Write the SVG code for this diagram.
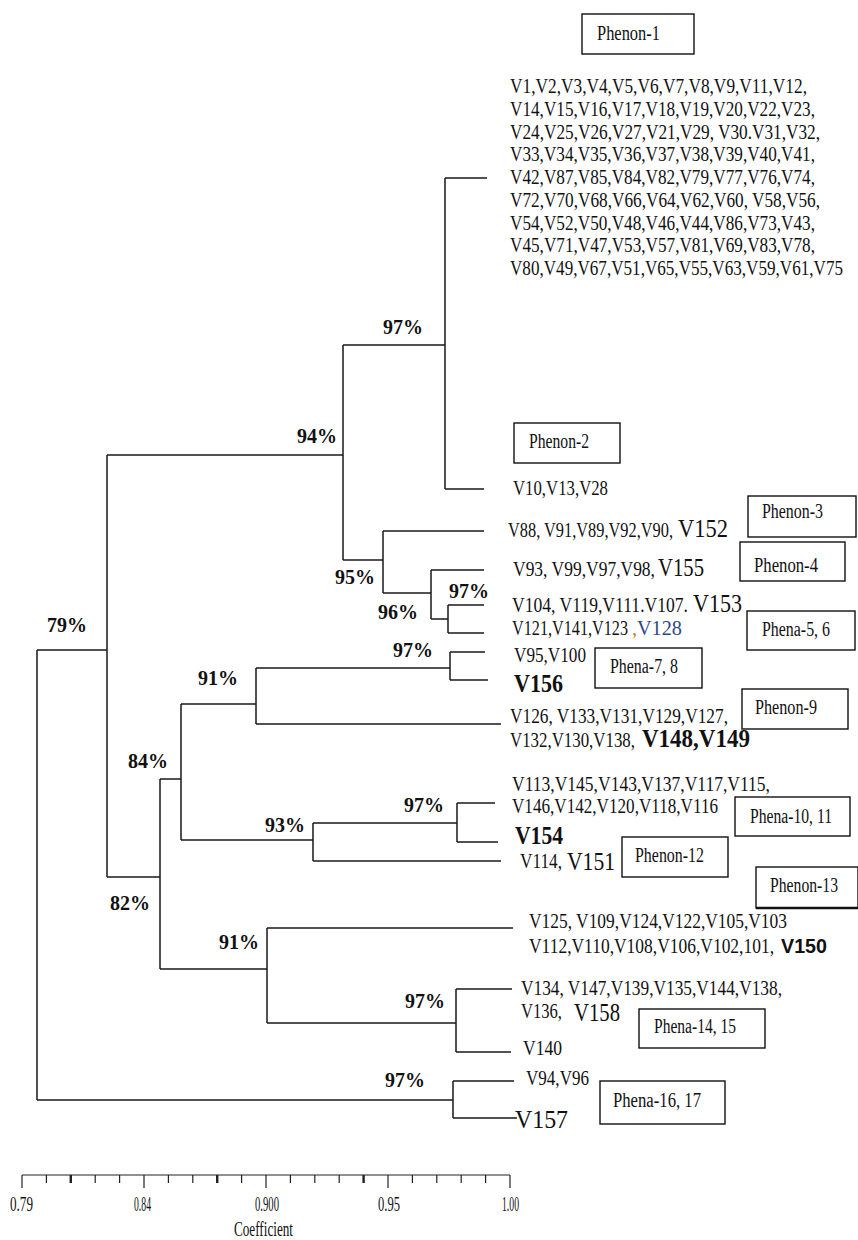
<svg xmlns="http://www.w3.org/2000/svg" width="858" height="1240" viewBox="0 0 858 1240">
<style>
.ln{stroke:#1a1a1a;stroke-width:1.5;fill:none}
.bx{fill:#fff;stroke:#111;stroke-width:1.4}
.pc{font-family:"Liberation Serif","Times New Roman",serif;font-weight:bold;font-size:20px;fill:#111}
.lf{font-family:"Liberation Serif","Times New Roman",serif;font-size:21px;fill:#111}
.bg{font-family:"Liberation Serif","Times New Roman",serif;font-size:25px;fill:#111}
.bgb{font-family:"Liberation Serif","Times New Roman",serif;font-size:26px;font-weight:bold;fill:#111}
.sb{font-family:"Liberation Sans",Arial,sans-serif;font-size:20px;font-weight:bold;fill:#111}
.bt{font-family:"Liberation Serif","Times New Roman",serif;font-size:20px;fill:#111}
.ax{font-family:"Liberation Serif","Times New Roman",serif;font-size:22px;fill:#111}
.tk{stroke:#222;stroke-width:1.2}
.tkb{stroke:#222;stroke-width:2.4}
</style>
<rect x="0" y="0" width="858" height="1240" fill="#fff"/>

<g id="connectors">
<path class="ln" d="M37,650 V1100 M37,650 H107 M37,1100 H453"/>
<path class="ln" d="M107,455 V877 M107,455 H343 M107,877 H160"/>
<path class="ln" d="M343,345 V560 M343,345 H445 M343,560 H383"/>
<path class="ln" d="M445,178 V489 M445,178 H487 M445,489 H484"/>
<path class="ln" d="M383,531 V593 M383,531 H484 M383,593 H431"/>
<path class="ln" d="M431,570 V619 M431,570 H484 M431,619 H448"/>
<path class="ln" d="M448,605 V633 M448,605 H484 M448,633 H484"/>
<path class="ln" d="M160,779 V969 M160,779 H181 M160,969 H267"/>
<path class="ln" d="M181,704 V840 M181,704 H256 M181,840 H313"/>
<path class="ln" d="M256,668 V724 M256,668 H450 M256,724 H501"/>
<path class="ln" d="M450,652 V680 M450,652 H485 M450,680 H488"/>
<path class="ln" d="M313,823 V861 M313,823 H457 M313,861 H501"/>
<path class="ln" d="M457,803 V842 M457,803 H495 M457,842 H498"/>
<path class="ln" d="M267,928 V1023 M267,928 H513 M267,1023 H456"/>
<path class="ln" d="M456,989 V1052 M456,989 H512 M456,1052 H511"/>
<path class="ln" d="M453,1081 V1118 M453,1081 H514 M453,1118 H517"/>
</g>

<g id="similarity-labels">
<text class="pc" x="383" y="334">97%</text>
<text class="pc" x="297" y="443">94%</text>
<text class="pc" x="335" y="584">95%</text>
<text class="pc" x="378" y="619">96%</text>
<text class="pc" x="449" y="598">97%</text>
<text class="pc" x="393" y="657">97%</text>
<text class="pc" x="198" y="685">91%</text>
<text class="pc" x="47" y="632">79%</text>
<text class="pc" x="128" y="768">84%</text>
<text class="pc" x="404" y="812">97%</text>
<text class="pc" x="265" y="832">93%</text>
<text class="pc" x="110" y="910">82%</text>
<text class="pc" x="219" y="949">91%</text>
<text class="pc" x="405" y="1008">97%</text>
<text class="pc" x="385" y="1087">97%</text>
</g>

<g id="phenon-1">
<rect class="bx" x="582" y="14" width="112" height="40"/>
<text class="bt" x="597" y="40" textLength="63" lengthAdjust="spacingAndGlyphs">Phenon-1</text>
<text class="lf" x="510" y="93" textLength="297" lengthAdjust="spacingAndGlyphs">V1,V2,V3,V4,V5,V6,V7,V8,V9,V11,V12,</text>
<text class="lf" x="510" y="116" textLength="305" lengthAdjust="spacingAndGlyphs">V14,V15,V16,V17,V18,V19,V20,V22,V23,</text>
<text class="lf" x="510" y="139" textLength="310" lengthAdjust="spacingAndGlyphs">V24,V25,V26,V27,V21,V29, V30.V31,V32,</text>
<text class="lf" x="510" y="161" textLength="305" lengthAdjust="spacingAndGlyphs">V33,V34,V35,V36,V37,V38,V39,V40,V41,</text>
<text class="lf" x="510" y="184" textLength="305" lengthAdjust="spacingAndGlyphs">V42,V87,V85,V84,V82,V79,V77,V76,V74,</text>
<text class="lf" x="510" y="207" textLength="310" lengthAdjust="spacingAndGlyphs">V72,V70,V68,V66,V64,V62,V60, V58,V56,</text>
<text class="lf" x="510" y="230" textLength="305" lengthAdjust="spacingAndGlyphs">V54,V52,V50,V48,V46,V44,V86,V73,V43,</text>
<text class="lf" x="510" y="252" textLength="305" lengthAdjust="spacingAndGlyphs">V45,V71,V47,V53,V57,V81,V69,V83,V78,</text>
<text class="lf" x="510" y="275" textLength="333" lengthAdjust="spacingAndGlyphs">V80,V49,V67,V51,V65,V55,V63,V59,V61,V75</text>
</g>

<g id="phenon-2">
<rect class="bx" x="514" y="423" width="106" height="40"/>
<text class="bt" x="529" y="448" textLength="60" lengthAdjust="spacingAndGlyphs">Phenon-2</text>
<text class="lf" x="513" y="495" textLength="95" lengthAdjust="spacingAndGlyphs">V10,V13,V28</text>
</g>

<g id="phenon-3">
<rect class="bx" x="748" y="496" width="108" height="41"/>
<text class="bt" x="762" y="518" textLength="61" lengthAdjust="spacingAndGlyphs">Phenon-3</text>
<text class="lf" y="537"><tspan x="508" textLength="165" lengthAdjust="spacingAndGlyphs">V88, V91,V89,V92,V90,</tspan><tspan class="bg" x="678" textLength="50" lengthAdjust="spacingAndGlyphs">V152</tspan></text>
</g>

<g id="phenon-4">
<rect class="bx" x="740" y="542" width="105" height="39"/>
<text class="bt" x="754" y="572" textLength="64" lengthAdjust="spacingAndGlyphs">Phenon-4</text>
<text class="lf" y="576"><tspan x="513" textLength="142" lengthAdjust="spacingAndGlyphs">V93, V99,V97,V98,</tspan><tspan class="bg" x="658" textLength="46" lengthAdjust="spacingAndGlyphs">V155</tspan></text>
</g>

<g id="phena-5-6">
<rect class="bx" x="747" y="611" width="108" height="39"/>
<text class="bt" x="762" y="636" textLength="68" lengthAdjust="spacingAndGlyphs">Phena-5, 6</text>
<text class="lf" y="612"><tspan x="512" textLength="176" lengthAdjust="spacingAndGlyphs">V104, V119,V111.V107.</tspan><tspan class="bg" x="693" textLength="49" lengthAdjust="spacingAndGlyphs">V153</tspan></text>
<text class="lf" y="635"><tspan x="512" textLength="116" lengthAdjust="spacingAndGlyphs">V121,V141,V123</tspan><tspan x="632" fill="#c8802a">,</tspan><tspan x="637" fill="#2c4a86" textLength="45" lengthAdjust="spacingAndGlyphs">V128</tspan></text>
</g>

<g id="phena-7-8">
<rect class="bx" x="595" y="648" width="107" height="40"/>
<text class="bt" x="610" y="673" textLength="68" lengthAdjust="spacingAndGlyphs">Phena-7, 8</text>
<text class="lf" x="514" y="662" textLength="72" lengthAdjust="spacingAndGlyphs">V95,V100</text>
<text class="bgb" x="514" y="692" textLength="49" lengthAdjust="spacingAndGlyphs">V156</text>
</g>

<g id="phenon-9">
<rect class="bx" x="742" y="689" width="106" height="40"/>
<text class="bt" x="755" y="714" textLength="62" lengthAdjust="spacingAndGlyphs">Phenon-9</text>
<text class="lf" x="510" y="723" textLength="218" lengthAdjust="spacingAndGlyphs">V126, V133,V131,V129,V127,</text>
<text class="lf" y="747"><tspan x="510" textLength="125" lengthAdjust="spacingAndGlyphs">V132,V130,V138,</tspan><tspan class="bgb" x="642" textLength="108" lengthAdjust="spacingAndGlyphs">V148,V149</tspan></text>
</g>

<g id="phena-10-11">
<rect class="bx" x="735" y="797" width="115" height="39"/>
<text class="bt" x="750" y="823" textLength="82" lengthAdjust="spacingAndGlyphs">Phena-10, 11</text>
<text class="lf" x="512" y="791" textLength="258" lengthAdjust="spacingAndGlyphs">V113,V145,V143,V137,V117,V115,</text>
<text class="lf" x="512" y="813" textLength="206" lengthAdjust="spacingAndGlyphs">V146,V142,V120,V118,V116</text>
<text class="bgb" x="515" y="844" textLength="48" lengthAdjust="spacingAndGlyphs">V154</text>
</g>

<g id="phenon-12">
<rect class="bx" x="622" y="837" width="106" height="40"/>
<text class="bt" x="635" y="862" textLength="69" lengthAdjust="spacingAndGlyphs">Phenon-12</text>
<text class="lf" y="868"><tspan x="520" textLength="42" lengthAdjust="spacingAndGlyphs">V114,</tspan><tspan class="bg" x="567" y="870" textLength="48" lengthAdjust="spacingAndGlyphs">V151</tspan></text>
</g>

<g id="phenon-13">
<rect class="bx" x="756" y="867" width="102" height="41"/>
<path d="M756,908 H858" stroke="#111" stroke-width="2.5"/>
<text class="bt" x="770" y="892" textLength="68" lengthAdjust="spacingAndGlyphs">Phenon-13</text>
<text class="lf" x="529" y="928" textLength="258" lengthAdjust="spacingAndGlyphs">V125, V109,V124,V122,V105,V103</text>
<text class="lf" y="953"><tspan x="529" textLength="245" lengthAdjust="spacingAndGlyphs">V112,V110,V108,V106,V102,101,</tspan><tspan class="sb" x="781" textLength="46" lengthAdjust="spacingAndGlyphs">V150</tspan></text>
</g>

<g id="phena-14-15">
<rect class="bx" x="639" y="1009" width="126" height="39"/>
<text class="bt" x="654" y="1033" textLength="82" lengthAdjust="spacingAndGlyphs">Phena-14, 15</text>
<text class="lf" x="521" y="995" textLength="261" lengthAdjust="spacingAndGlyphs">V134, V147,V139,V135,V144,V138,</text>
<text class="lf" y="1018"><tspan x="521" textLength="41" lengthAdjust="spacingAndGlyphs">V136,</tspan><tspan class="bg" x="574" y="1021" textLength="46" lengthAdjust="spacingAndGlyphs">V158</tspan></text>
<text class="lf" x="523" y="1055" textLength="39" lengthAdjust="spacingAndGlyphs">V140</text>
</g>

<g id="phena-16-17">
<rect class="bx" x="600" y="1081" width="125" height="43"/>
<text class="bt" x="613" y="1107" textLength="88" lengthAdjust="spacingAndGlyphs">Phena-16, 17</text>
<text class="lf" x="526" y="1085" textLength="63" lengthAdjust="spacingAndGlyphs">V94,V96</text>
<text class="bg" x="515" y="1128" textLength="53" lengthAdjust="spacingAndGlyphs">V157</text>
</g>

<g id="axis">
<line class="tk" x1="22" y1="1175" x2="510" y2="1175"/>
<line class="tk" x1="22" y1="1175" x2="22" y2="1188"/>
<line class="tk" x1="46.4" y1="1175" x2="46.4" y2="1183"/>
<line class="tkb" x1="70.8" y1="1175" x2="70.8" y2="1183"/>
<line class="tk" x1="95.2" y1="1175" x2="95.2" y2="1183"/>
<line class="tk" x1="119.6" y1="1175" x2="119.6" y2="1183"/>
<line class="tk" x1="144" y1="1175" x2="144" y2="1188"/>
<line class="tk" x1="168.4" y1="1175" x2="168.4" y2="1183"/>
<line class="tk" x1="192.8" y1="1175" x2="192.8" y2="1183"/>
<line class="tkb" x1="217.2" y1="1175" x2="217.2" y2="1183"/>
<line class="tk" x1="241.6" y1="1175" x2="241.6" y2="1183"/>
<line class="tk" x1="266" y1="1175" x2="266" y2="1188"/>
<line class="tk" x1="290.4" y1="1175" x2="290.4" y2="1183"/>
<line class="tk" x1="314.8" y1="1175" x2="314.8" y2="1183"/>
<line class="tk" x1="339.2" y1="1175" x2="339.2" y2="1183"/>
<line class="tkb" x1="363.6" y1="1175" x2="363.6" y2="1183"/>
<line class="tk" x1="388" y1="1175" x2="388" y2="1188"/>
<line class="tk" x1="412.4" y1="1175" x2="412.4" y2="1183"/>
<line class="tk" x1="436.8" y1="1175" x2="436.8" y2="1183"/>
<line class="tk" x1="461.2" y1="1175" x2="461.2" y2="1183"/>
<line class="tk" x1="485.6" y1="1175" x2="485.6" y2="1183"/>
<line class="tk" x1="510" y1="1175" x2="510" y2="1188"/>
<text class="ax" x="10" y="1211" textLength="23" lengthAdjust="spacingAndGlyphs">0.79</text>
<text class="ax" x="134" y="1211" textLength="17" lengthAdjust="spacingAndGlyphs">0.84</text>
<text class="ax" x="255" y="1211" textLength="24" lengthAdjust="spacingAndGlyphs">0.900</text>
<text class="ax" x="378" y="1211" textLength="22" lengthAdjust="spacingAndGlyphs">0.95</text>
<text class="ax" x="502" y="1211" textLength="17" lengthAdjust="spacingAndGlyphs">1.00</text>
<text class="ax" x="234" y="1236" textLength="59" lengthAdjust="spacingAndGlyphs">Coefficient</text>
</g>
</svg>
